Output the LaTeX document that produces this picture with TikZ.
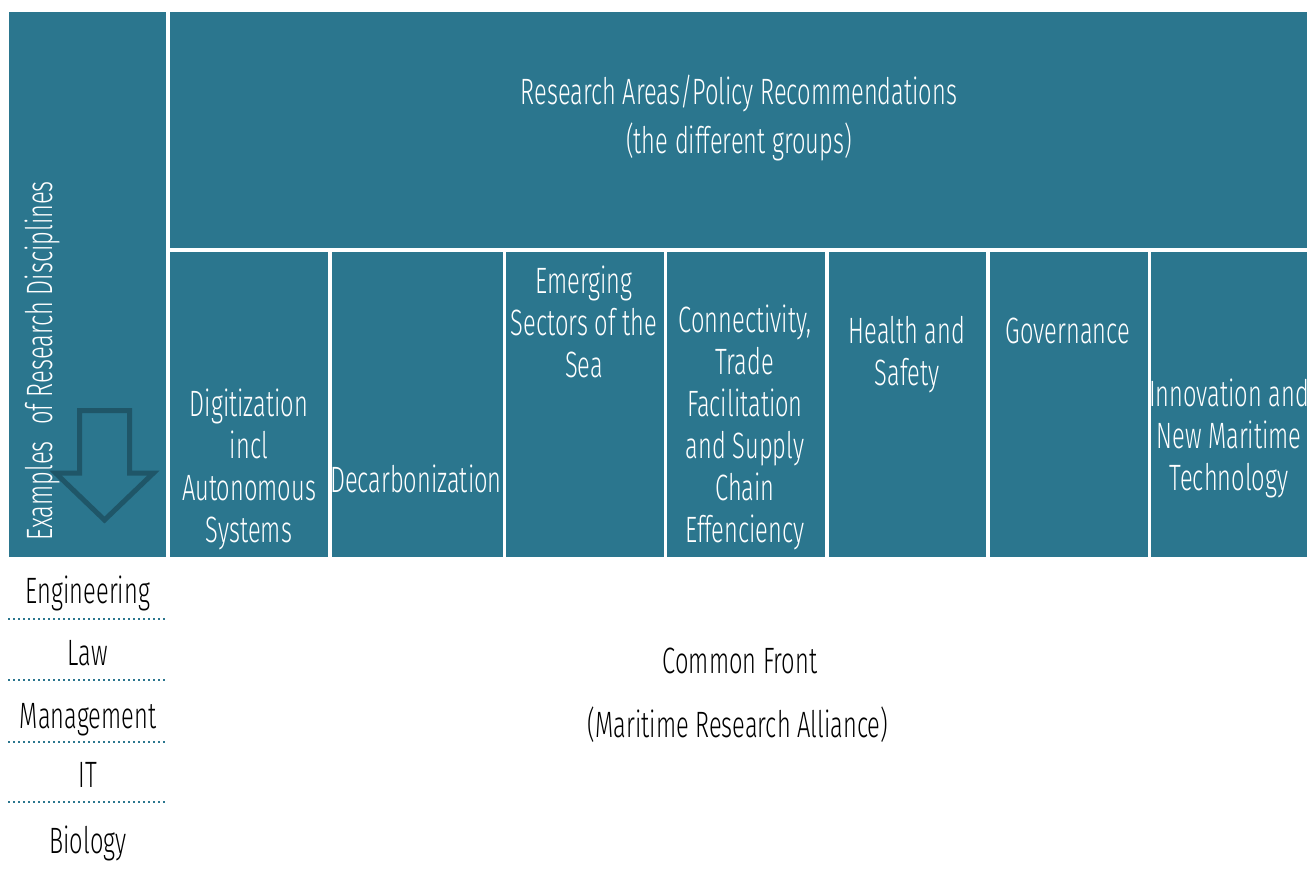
\documentclass[tikz,border=0pt]{standalone}
\usepackage{fontspec}
\setmainfont{Fira Sans}[UprightFont={* Light},FakeStretch=0.645]
\definecolor{seablue}{HTML}{2B768E}
\definecolor{seadark}{HTML}{1F5668}
\begin{document}
\begin{tikzpicture}[x=0.75pt,y=-0.75pt,
        cell/.style={fill=seablue,draw=none,inner sep=0pt,anchor=north west},
        celltext/.style={text=white,align=center,anchor=base,inner sep=0pt,font=\fontsize{27.5}{31.5}\selectfont},
        plaintext/.style={text=black,align=center,anchor=base,inner sep=0pt,font=\fontsize{27.5}{31.5}\selectfont},
        sep/.style={seablue,line width=1.5pt,dash pattern=on 1.5pt off 2.25pt}]
        \useasboundingbox (0,0) rectangle (1307,868);

        % boxes
        \node[cell,minimum width=117.75pt,minimum height=408.75pt] (disc) at (9,12) {};
        \node[cell,minimum width=852.75pt,minimum height=177pt] (areas) at (170,12) {};
        \foreach \l/\r [count=\i] in {170/328,332/503,506/664,667/825,829/986,990/1148,1151/1307}
            \node[cell,minimum width={(\r-\l)*0.75pt},minimum height=228.75pt] (col\i) at (\l,252) {};

        % arrow down the disciplines
        \draw[seadark,line width=3.75pt,miter limit=10] (79.5,410.5) -- (129.5,410.5) -- (129.5,473) -- (153.5,473) -- (104.5,520) -- (55.5,473) -- (79.5,473) -- cycle;

        \node[celltext,rotate=90,anchor=base west] (disctext) at (52,541) {Examples\hspace{0.45em}of Research Disciplines};
        % base = last line
        \node[celltext] (areastext) at (739,153) {Research Areas/Policy Recommendations\\[5pt](the different groups)};

        \node[celltext] (t1) at (249,542) {Digitization\\incl\\Autonomous\\Systems};
        \node[celltext] (t2) at (416,492) {Decarbonization};
        \node[celltext] (t3) at (584,377) {Emerging\\Sectors of the\\Sea};
        \node[celltext] (t4) at (745,542) {Connectivity,\\Trade\\Facilitation\\and Supply\\Chain\\Effenciency};
        \node[celltext] (t5) at (907,385) {Health and\\Safety};
        \node[celltext] (t6) at (1068,343) {Governance};
        \node[celltext] (t7) at (1229,490) {Innovation and\\New Maritime\\Technology};

        % disciplines
        \node[plaintext] (eng) at (88,603) {Engineering};
        \node[plaintext] (law) at (88,665) {Law};
        \node[plaintext] (mgmt) at (88,728) {Management};
        \node[plaintext] (it) at (88,787) {IT};
        \node[plaintext] (bio) at (88,853) {Biology};
        \foreach \y in {619,680,742,802}
            \draw[sep] (8,\y) -- (168,\y);

        \node[plaintext] (front) at (740,673) {Common Front};
        \node[plaintext] (alliance) at (738,737) {(Maritime Research Alliance)};
\end{tikzpicture}
\end{document}
